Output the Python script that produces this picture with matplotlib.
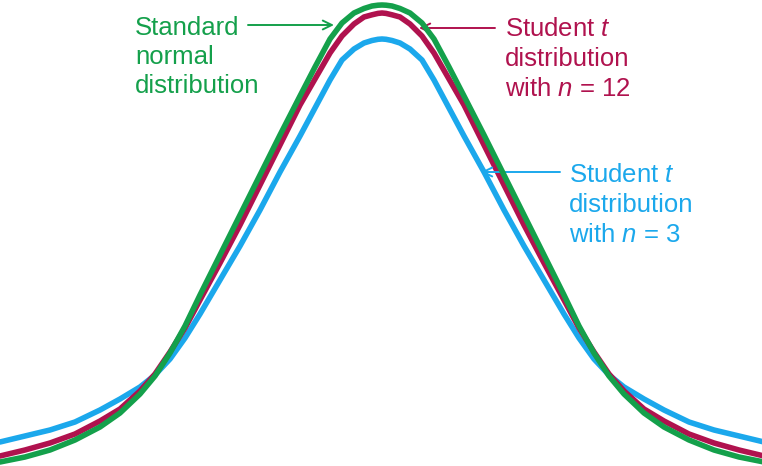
import matplotlib
matplotlib.use("Agg")
import matplotlib.pyplot as plt

# positions (pixel units, y grows downward)
x_pos = [0, 25, 50, 75, 100, 120, 140, 155, 170, 185, 200, 220, 240, 260, 280, 300, 315, 330,
         342, 354, 364, 372, 378, 382,
         386, 392, 400, 410, 422, 434, 449, 464, 484, 504, 524, 544, 564, 579, 594, 609, 624,
         644, 664, 689, 714, 739, 764]

normal_y = [462, 457, 450, 440, 427, 413, 394, 376, 353, 326, 295, 255, 215, 175, 135, 96, 67, 39,
            23, 13, 8.5, 6, 5.2, 5,
            5.2, 6, 8.5, 13, 23, 39, 67, 96, 135, 175, 215, 255, 295, 326, 353, 376, 394,
            413, 427, 440, 450, 457, 462]

t12_y = [456, 450, 443, 434, 421, 409, 391, 374, 352, 328, 300, 263, 225, 185, 145, 105, 79, 53,
         36, 24, 17, 14.8, 13.4, 13,
         13.4, 14.8, 17, 24, 36, 53, 79, 105, 145, 185, 225, 263, 300, 328, 352, 374, 391,
         409, 421, 434, 443, 450, 456]

t3_y = [442, 436, 430, 422, 410, 399, 387, 375, 359, 338, 314, 280, 246, 210, 172, 136, 108, 80,
        60, 49, 43, 40.5, 39.3, 39,
        39.3, 40.5, 43, 49, 60, 80, 108, 136, 172, 210, 246, 280, 314, 338, 359, 375, 387,
        399, 410, 422, 430, 436, 442]

GREEN = "#14a04b"
CRIMSON = "#b0124e"
BLUE = "#1ba8ec"

plt.rcParams["font.family"] = ["Liberation Sans", "DejaVu Sans"]
plt.rcParams["mathtext.fontset"] = "custom"
plt.rcParams["mathtext.rm"] = "Liberation Sans"
plt.rcParams["mathtext.it"] = "Liberation Sans:italic"

fig = plt.figure(figsize=(7.62, 4.66), dpi=100)
ax = fig.add_axes([0, 0, 1, 1])
ax.set_xlim(0, 762)
ax.set_ylim(466, 0)
ax.axis("off")

ax.plot(x_pos, t3_y, color=BLUE, lw=4, solid_capstyle="round", solid_joinstyle="round", zorder=2)
ax.plot(x_pos, t12_y, color=CRIMSON, lw=4, solid_capstyle="round", solid_joinstyle="round", zorder=3)
ax.plot(x_pos, normal_y, color=GREEN, lw=4, solid_capstyle="round", solid_joinstyle="round", zorder=4)

fs = 18.5
labels = [
    (135, [35, 64, 93], ["Standard", "normal", "distribution"], GREEN),
    (505, [36, 66, 96], ["Student $t$", "distribution", "with $n$ = 12"], CRIMSON),
    (569, [182, 212, 242], ["Student $t$", "distribution", "with $n$ = 3"], BLUE),
]
for lx, bases, lines, col in labels:
    for b, s in zip(bases, lines):
        ax.text(lx, b, s, color=col, fontsize=fs, ha="left", va="baseline")

arrows = [((248, 25), (334, 25), GREEN),
          ((495, 28), (419, 28), CRIMSON),
          ((560, 172), (481, 172), BLUE)]
for start, end, col in arrows:
    ax.annotate("", xy=end, xytext=start,
                arrowprops=dict(arrowstyle="->,head_length=0.65,head_width=0.32", color=col,
                                lw=1.4, shrinkA=0, shrinkB=0, mutation_scale=10))

fig.savefig("out.png", dpi=100)
plt.close(fig)
